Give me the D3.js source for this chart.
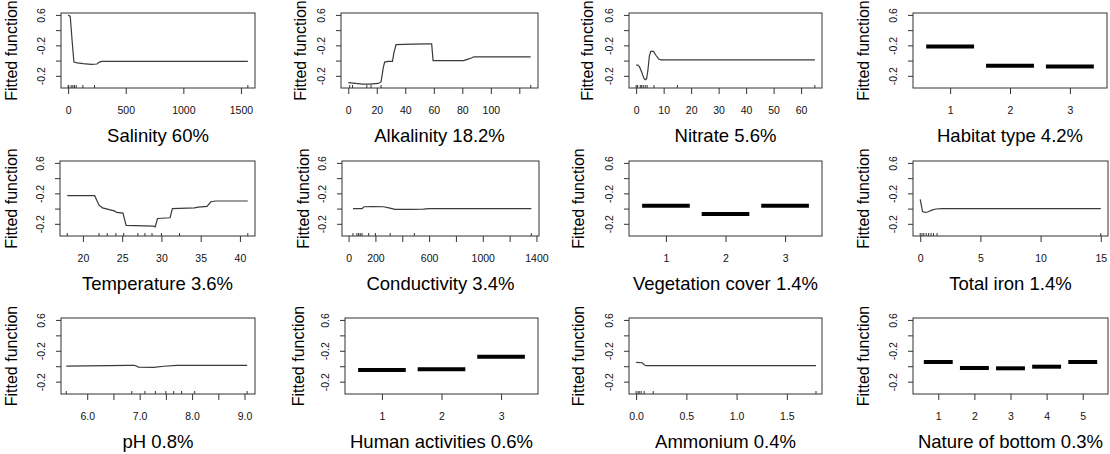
<!DOCTYPE html>
<html>
<head>
<meta charset="utf-8">
<script src="https://cdn.jsdelivr.net/npm/d3@7"></script>
<style>
  body { margin: 0; background: #fff; }
  svg { display: block; font-family: "Liberation Sans", Arial, sans-serif; }
</style>
</head>
<body>
<svg id="chart" width="1110" height="454"></svg>
<script>
// shared y axis (labels as printed in the figure)
const yTicks = [0.6, 0.4, 0.2, 0.0, -0.2];
const yTickLabels = ["0.6", "", "-0.2", "", "-0.2"];

// continuous predictors: x, fitted value, rug marks, axis ticks
const salinityX = [0, 18, 25, 35, 50, 80, 130, 200, 250, 272, 290, 1560];
const salinityY = [0.60, 0.58, 0.45, 0.25, -0.02, -0.03, -0.04, -0.05, -0.045, -0.02, -0.01, -0.01];
const salinityRug = [0, 5, 26, 41, 55, 70, 128, 229, 1560];
const salinityTicks = [0, 500, 1000, 1500];
const salinityTickLabels = ["0", "500", "1000", "1500"];

const alkalinityX = [0, 5, 10, 15, 21, 23, 24.5, 25.5, 28, 31, 32, 33.5, 45, 57, 58.5, 59.5, 70, 81, 84, 86, 88, 128];
const alkalinityY = [-0.29, -0.30, -0.31, -0.31, -0.30, -0.28, -0.10, -0.02, -0.01, -0.01, 0.10, 0.21, 0.215, 0.22, 0.22, 0.0, 0.0, 0.0, 0.02, 0.03, 0.05, 0.05];
const alkalinityRug = [1, 3, 13, 16, 23, 128];
const alkalinityTicks = [0, 20, 40, 60, 80, 100, 120];
const alkalinityTickLabels = ["0", "20", "40", "60", "80", "100", ""];

const nitrateX = [0, 0.6, 1.2, 2, 2.8, 3.3, 3.8, 4.3, 4.8, 5.3, 6.3, 7.2, 8.2, 9, 65];
const nitrateY = [-0.06, -0.06, -0.08, -0.15, -0.23, -0.25, -0.24, -0.12, 0.06, 0.12, 0.12, 0.07, 0.02, 0.01, 0.01];
const nitrateRug = [0, 0.5, 1.5, 2, 2.6, 3.3, 4, 6.5, 15, 65];
const nitrateTicks = [0, 10, 20, 30, 40, 50, 60];
const nitrateTickLabels = ["0", "10", "20", "30", "40", "50", "60"];

const temperatureX = [18, 21.5, 22.05, 22.5, 23.6, 24.0, 24.3, 25.1, 25.5, 29.0, 29.2, 29.5, 31.1, 31.4, 34.2, 34.7, 35.8, 36.3, 36.9, 41];
const temperatureY = [0.17, 0.17, 0.045, 0.01, -0.02, -0.03, -0.05, -0.06, -0.22, -0.23, -0.24, -0.13, -0.12, 0.0, 0.01, 0.02, 0.03, 0.09, 0.10, 0.10];
const temperatureRug = [18, 22.05, 23.1, 24.2, 25.2, 27.0, 27.9, 28.8, 30.0, 32.3, 41];
const temperatureTicks = [20, 25, 30, 35, 40];
const temperatureTickLabels = ["20", "25", "30", "35", "40"];

const conductivityX = [33, 100, 115, 180, 260, 300, 346, 450, 557, 600, 1362];
const conductivityY = [0.0, 0.0, 0.024, 0.026, 0.024, 0.01, -0.01, -0.01, -0.008, 0.0, 0.0];
const conductivityRug = [33, 62, 75, 87, 100, 150, 200, 310, 490, 1362];
const conductivityTicks = [0, 200, 400, 600, 800, 1000, 1200, 1400];
const conductivityTickLabels = ["0", "200", "", "600", "", "1000", "", "1400"];

const ironX = [0, 0.19, 0.42, 0.6, 0.97, 1.3, 1.8, 15];
const ironY = [0.12, -0.04, -0.05, -0.045, -0.02, -0.005, 0.0, 0.0];
const ironRug = [0, 0.15, 0.3, 0.5, 0.7, 0.9, 1.1, 1.4, 15];
const ironTicks = [0, 5, 10, 15];
const ironTickLabels = ["0", "5", "10", "15"];

const phX = [5.6, 6.8, 6.9, 6.98, 7.27, 7.46, 7.71, 9.05];
const phY = [0.0, 0.01, 0.012, -0.012, -0.014, 0.0, 0.012, 0.012];
const phRug = [5.6, 6.85, 7.1, 7.3, 7.5, 7.65, 7.8, 8.05, 9.05];
const phTicks = [6.0, 6.5, 7.0, 7.5, 8.0, 8.5, 9.0];
const phTickLabels = ["6.0", "", "7.0", "", "8.0", "", "9.0"];

const ammoniumX = [0, 0.06, 0.08, 0.1, 1.79];
const ammoniumY = [0.05, 0.045, 0.02, 0.007, 0.007];
const ammoniumRug = [0, 0.02, 0.03, 0.05, 0.08, 0.17, 1.79];
const ammoniumTicks = [0, 0.5, 1.0, 1.5];
const ammoniumTickLabels = ["0.0", "0.5", "1.0", "1.5"];

// factor predictors: level codes and fitted value per level
const habitatLevels = [1, 2, 3];
const habitatY = [0.186, -0.067, -0.076];
const vegetationLevels = [1, 2, 3];
const vegetationY = [0.036, -0.07, 0.036];
const humanLevels = [1, 2, 3];
const humanY = [-0.049, -0.04, 0.124];
const bottomLevels = [1, 2, 3, 4, 5];
const bottomY = [0.055, -0.023, -0.027, -0.006, 0.055];

// layout
const rows = [{y0: 13, y1: 88}, {y0: 161, y1: 236}, {y0: 318, y1: 394}];
const yDomain = [-0.36, 0.625];

const panels = [
  {title: "Salinity 60%", row: 0, box: [61, 255], ylab: 11, xs: salinityX, ys: salinityY, rug: salinityRug, domain: [-62, 1622], ticks: salinityTicks, labels: salinityTickLabels},
  {title: "Alkalinity 18.2%", row: 0, box: [341, 538], ylab: 300, xs: alkalinityX, ys: alkalinityY, rug: alkalinityRug, domain: [-5.1, 133.1], ticks: alkalinityTicks, labels: alkalinityTickLabels},
  {title: "Nitrate 5.6%", row: 0, box: [629, 822], ylab: 587, xs: nitrateX, ys: nitrateY, rug: nitrateRug, domain: [-2.6, 67.6], ticks: nitrateTicks, labels: nitrateTickLabels},
  {title: "Habitat type 4.2%", row: 0, box: [913, 1107], ylab: 863, levels: habitatLevels, ys: habitatY},
  {title: "Temperature 3.6%", row: 1, box: [60, 255], ylab: 11, xs: temperatureX, ys: temperatureY, rug: temperatureRug, domain: [17.08, 41.92], ticks: temperatureTicks, labels: temperatureTickLabels},
  {title: "Conductivity 3.4%", row: 1, box: [342, 539], ylab: 303, xs: conductivityX, ys: conductivityY, rug: conductivityRug, domain: [-49, 1419], ticks: conductivityTicks, labels: conductivityTickLabels},
  {title: "Vegetation cover 1.4%", row: 1, box: [629, 822], ylab: 578, levels: vegetationLevels, ys: vegetationY},
  {title: "Total iron 1.4%", row: 1, box: [913, 1108], ylab: 863, xs: ironX, ys: ironY, rug: ironRug, domain: [-0.6, 15.6], ticks: ironTicks, labels: ironTickLabels},
  {title: "pH 0.8%", row: 2, box: [61, 255], ylab: 11, xs: phX, ys: phY, rug: phRug, domain: [5.5, 9.2], ticks: phTicks, labels: phTickLabels},
  {title: "Human activities 0.6%", row: 2, box: [345, 538], ylab: 298, levels: humanLevels, ys: humanY},
  {title: "Ammonium 0.4%", row: 2, box: [629, 822], ylab: 578, xs: ammoniumX, ys: ammoniumY, rug: ammoniumRug, domain: [-0.071, 1.85], ticks: ammoniumTicks, labels: ammoniumTickLabels},
  {title: "Nature of bottom 0.3%", row: 2, box: [913, 1108], ylab: 863, levels: bottomLevels, ys: bottomY}
];

const svg = d3.select("#chart");
const ink = "#333";

function drawPanel(p) {
  const row = rows[p.row];
  const isFactor = !!p.levels;
  const domain = isFactor ? [0.5 - 0.04 * p.levels.length, p.levels.length + 0.5 + 0.04 * p.levels.length] : p.domain;
  const x = d3.scaleLinear().domain(domain).range(p.box);
  const y = d3.scaleLinear().domain(yDomain).range([row.y1, row.y0]);
  const g = svg.append("g");

  // y axis
  const ya = g.append("g")
    .attr("transform", `translate(${p.box[0]},0)`)
    .call(d3.axisLeft(y).tickValues(yTicks).tickSize(5).tickFormat((d, i) => yTickLabels[i]));
  ya.select(".domain").remove();
  ya.selectAll(".tick line").attr("stroke", ink);
  ya.selectAll(".tick text")
    .attr("transform", "rotate(-90)")
    .attr("x", 0).attr("y", -16).attr("dy", null)
    .attr("text-anchor", "middle")
    .attr("fill", "#111")
    .style("font-size", "10.5px");

  // x axis
  const ticks = isFactor ? p.levels : p.ticks;
  const labels = isFactor ? p.levels.map(String) : p.labels;
  const xa = g.append("g")
    .attr("transform", `translate(0,${row.y1})`)
    .call(d3.axisBottom(x).tickValues(ticks).tickSize(6).tickFormat((d, i) => labels[i]));
  xa.select(".domain").remove();
  xa.selectAll(".tick line").attr("stroke", ink);
  xa.selectAll(".tick text")
    .attr("y", 19)
    .attr("fill", "#111")
    .style("font-size", "10.5px");

  // box
  g.append("rect")
    .attr("x", p.box[0]).attr("y", row.y0)
    .attr("width", p.box[1] - p.box[0]).attr("height", row.y1 - row.y0)
    .attr("fill", "none").attr("stroke", ink).attr("stroke-width", 1);

  if (isFactor) {
    g.selectAll(".lvl")
      .data(p.levels)
      .enter()
      .append("line")
      .attr("x1", d => x(d - 0.4))
      .attr("x2", d => x(d + 0.4))
      .attr("y1", (d, i) => y(p.ys[i]))
      .attr("y2", (d, i) => y(p.ys[i]))
      .attr("stroke", "#000")
      .attr("stroke-width", 4);
  } else {
    const pts = p.xs.map((v, i) => [v, p.ys[i]]);
    g.append("path")
      .datum(pts)
      .attr("fill", "none")
      .attr("stroke", "#3a3a3a")
      .attr("stroke-width", 1.2)
      .attr("d", d3.line().x(d => x(d[0])).y(d => y(d[1])));

    g.selectAll(".rug")
      .data(p.rug)
      .enter()
      .append("line")
      .attr("x1", d => x(d)).attr("x2", d => x(d))
      .attr("y1", row.y1).attr("y2", row.y1 - 3)
      .attr("stroke", ink);
  }

  // labels
  g.append("text")
    .attr("x", (p.box[0] + p.box[1]) / 2)
    .attr("y", row.y1 + 54)
    .attr("text-anchor", "middle")
    .style("font-size", "18.5px")
    .attr("fill", "#000")
    .text(p.title);

  g.append("text")
    .attr("transform", `translate(${p.ylab},${(row.y0 + row.y1) / 2}) rotate(-90)`)
    .attr("text-anchor", "middle")
    .attr("dy", "0.35em")
    .style("font-size", "16px")
    .attr("fill", "#000")
    .text("Fitted function");
}

panels.forEach(drawPanel);
</script>
</body>
</html>
